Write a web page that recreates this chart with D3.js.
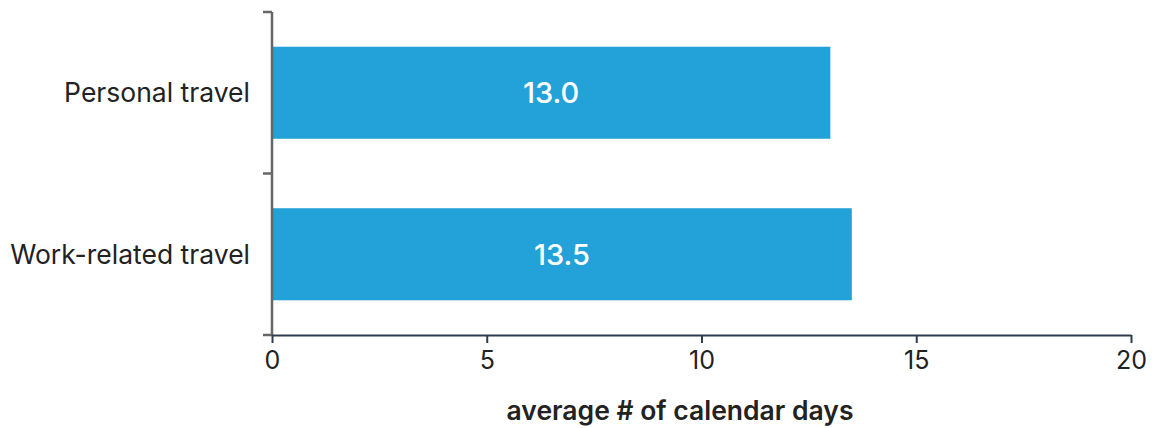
<!DOCTYPE html>
<html>
<head>
<meta charset="utf-8">
<script src="https://cdn.jsdelivr.net/npm/d3@7"></script>
<style>
  body { margin: 0; background: #fff; }
  svg { display: block; font-family: Inter, "Open Sans", sans-serif; }
</style>
</head>
<body>
<svg id="chart"></svg>
<script>
// data
const categories = ["Personal travel", "Work-related travel"];
const values = [13.0, 13.5];
const xTicks = [0, 5, 10, 15, 20];
const xTitle = "average # of calendar days";

const width = 1152, height = 428;
const margin = { top: 12, right: 21, bottom: 93, left: 272 };

const svg = d3.select("#chart")
    .attr("width", width)
    .attr("height", height);

const x = d3.scaleLinear()
    .domain([0, 20])
    .range([margin.left, width - margin.right]);

const y = d3.scaleBand()
    .domain(categories)
    .range([margin.top, height - margin.bottom])
    .paddingInner(0.43)
    .paddingOuter(0.215);

// bars
svg.selectAll("rect.bar")
    .data(values)
    .enter()
    .append("rect")
    .attr("class", "bar")
    .attr("x", x(0))
    .attr("y", (d, i) => y(categories[i]))
    .attr("width", d => x(d) - x(0))
    .attr("height", y.bandwidth())
    .attr("fill", "#22a2d9");

// value labels
svg.selectAll("text.val")
    .data(values)
    .enter()
    .append("text")
    .attr("class", "val")
    .attr("x", d => (x(0) + x(d)) / 2)
    .attr("y", (d, i) => y(categories[i]) + y.bandwidth() / 2)
    .attr("dy", "0.36em")
    .attr("text-anchor", "middle")
    .attr("fill", "#fff")
    .style("font-size", "29px")
    .style("font-weight", 500)
    .text(d => d.toFixed(1));

// y axis: line + ticks at band edges
const yAxisG = svg.append("g").attr("class", "y-axis");
const edges = d3.range(categories.length + 1).map(i => margin.top + i * y.step());
yAxisG.selectAll("line.tick")
    .data(edges)
    .enter()
    .append("line")
    .attr("x1", x(0) - 9)
    .attr("x2", x(0))
    .attr("y1", d => d)
    .attr("y2", d => d)
    .attr("stroke", "#666")
    .attr("stroke-width", 2.5);
yAxisG.append("line")
    .attr("x1", x(0))
    .attr("x2", x(0))
    .attr("y1", y.range()[0])
    .attr("y2", y.range()[1])
    .attr("stroke", "#666")
    .attr("stroke-width", 2.5);

yAxisG.selectAll("text")
    .data(categories)
    .enter()
    .append("text")
    .attr("x", x(0) - 22)
    .attr("y", d => y(d) + y.bandwidth() / 2)
    .attr("dy", "0.36em")
    .attr("text-anchor", "end")
    .attr("fill", "#222")
    .style("font-size", "26.5px")
    .text(d => d);

// x axis
const xAxis = d3.axisBottom(x)
    .tickValues(xTicks)
    .tickSize(8)
    .tickPadding(8)
    .tickSizeOuter(0);

const xg = svg.append("g")
    .attr("transform", `translate(0,${height - margin.bottom})`)
    .call(xAxis);
xg.select(".domain").attr("stroke", "#2e3d50").attr("stroke-width", 2);
xg.selectAll(".tick line").attr("stroke", "#2e3d50").attr("stroke-width", 2);
xg.selectAll(".tick text")
    .attr("fill", "#222")
    .style("font-size", "25px")
    .style("font-family", "Inter, sans-serif");

// axis title sits a little left of the axis centre in the original
svg.append("text")
    .attr("x", x(9.5))
    .attr("y", 420)
    .attr("text-anchor", "middle")
    .attr("fill", "#222")
    .style("font-size", "26.5px")
    .style("font-weight", 600)
    .text(xTitle);
</script>
</body>
</html>
